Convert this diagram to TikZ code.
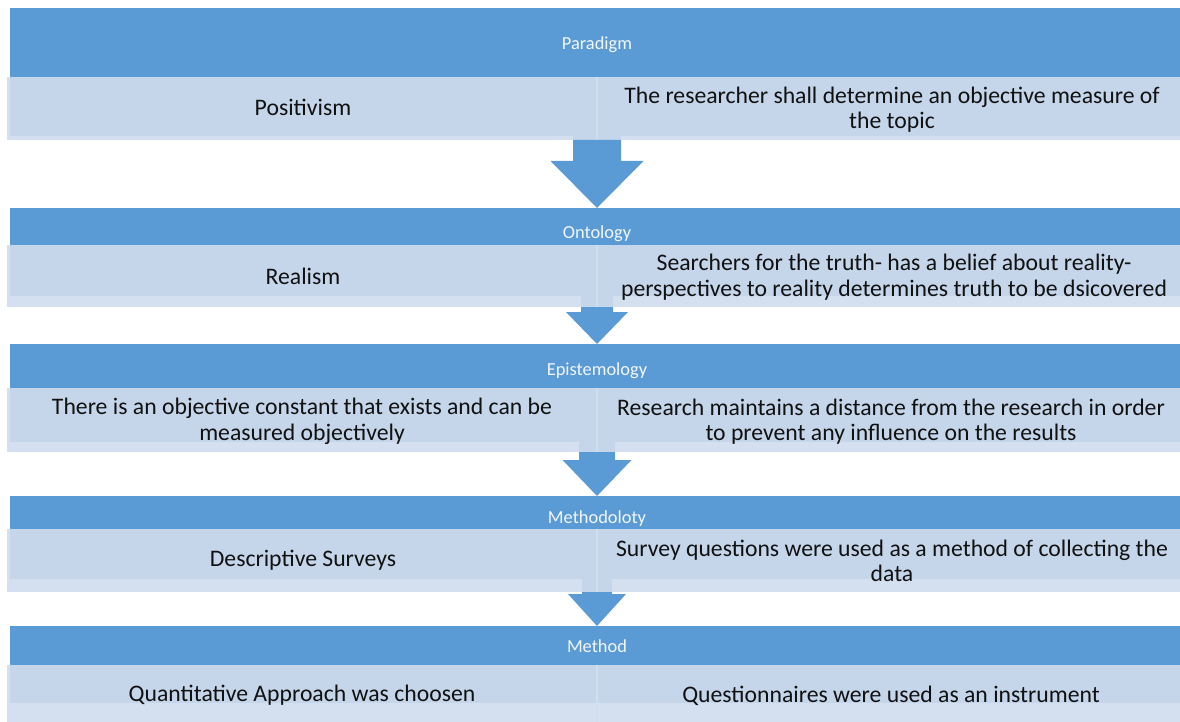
\documentclass[tikz,border=0pt]{standalone}
\usepackage{fontspec}
\setmainfont{Carlito}
\usetikzlibrary{calc}
\definecolor{hdr}{HTML}{5B9BD5}
\definecolor{cellfill}{HTML}{C5D6EB}
\definecolor{rimfill}{HTML}{D4DFEF}
\definecolor{divline}{HTML}{D2DEEE}
\definecolor{hdrtext}{HTML}{F2F6FB}
\definecolor{ink}{HTML}{111111}

% one stage: header bar, cell band with a lighter rim, centre divider
% #1 id, #2 top, #3 header bottom, #4 cell bottom, #5 band bottom
\newcommand\stagebox[5]{%
  \node[bar, minimum height={(#3-#2)*1pt}] (bar#1) at (10,#2) {};
  \node[rim, minimum height={(#5-#3)*1pt}] (rim#1) at (7,#3) {};
  \node[cell, minimum height={(#4-#3)*1pt}] (cell#1) at (10,#3) {};
  \draw[divline, line width=2pt] (axis |- cell#1.north) -- (axis |- rim#1.south);
}
% block arrow from one band to the next header
% #1 upper id, #2 lower id, #3 shaft half width, #4 head half width, #5 head length
\newcommand\flowarrow[5]{%
  \fill[cellfill] ($(axis |- cell#1.south)+(-#3,0)$) rectangle ($(axis |- rim#1.south)+(#3,0)$);
  \draw[divline, line width=2pt] (axis |- cell#1.south) -- (axis |- rim#1.south);
  \fill[hdr] ($(axis |- rim#1.south)+(-#3,0)$) -- ($(axis |- rim#1.south)+(#3,0)$)
    -- ($(axis |- bar#2.north)+(#3,-#5)$) -- ($(axis |- bar#2.north)+(#4,-#5)$)
    -- (axis |- bar#2.north)
    -- ($(axis |- bar#2.north)+(-#4,-#5)$) -- ($(axis |- bar#2.north)+(-#3,-#5)$) -- cycle;
}

\begin{document}
\begin{tikzpicture}[x=1pt,y=-1pt,
  bar/.style={fill=hdr, draw=none, inner sep=0pt, outer sep=0pt, anchor=north west, minimum width=1170pt},
  rim/.style={fill=rimfill, draw=none, inner sep=0pt, outer sep=0pt, anchor=north west, minimum width=1173pt},
  cell/.style={fill=cellfill, draw=none, inner sep=0pt, outer sep=0pt, anchor=north west, minimum width=1170pt},
  title/.style={text=hdrtext, font=\fontsize{18.4}{22}\selectfont, inner sep=0pt},
  body/.style={text=ink, font=\fontsize{23.7}{25.5}\selectfont, align=center, inner sep=0pt}]
\useasboundingbox (0,0) rectangle (1180,722);
\coordinate (axis) at (597,0);

\stagebox{1}{8}{77}{136}{140}
\stagebox{2}{208}{245}{296}{307}
\stagebox{3}{344}{388}{442}{452}
\stagebox{4}{496}{529}{579}{592}
\stagebox{5}{626}{665}{703}{722}

\flowarrow{1}{2}{24}{46.5}{47}
\flowarrow{2}{3}{16}{31}{32}
\flowarrow{3}{4}{18}{34.5}{36}
\flowarrow{4}{5}{15}{29}{32}

\node[title] (t1) at (597,44.5) {Paradigm};
\node[title] (t2) at (597,233.5) {Ontology};
\node[title] (t3) at (597,370.5) {Epistemology};
\node[title] (t4) at (597,518.5) {Methodoloty};
\node[title] (t5) at (597,646) {Method};

\node[body] (l1) at (303,107.5) {Positivism};
\node[body] (r1) at (892,109.5) {The researcher shall determine an objective measure of\\the topic};
\node[body] (l2) at (303,276.5) {Realism};
\node[body] (r2) at (894,277) {Searchers for the truth- has a belief about reality-\\perspectives to reality determines truth to be dsicovered};
\node[body] (l3) at (302,421.5) {There is an objective constant that exists and can be\\measured objectively};
\node[body] (r3) at (891,421.5) {Research maintains a distance from the research in order\\to prevent any influence on the results};
\node[body] (l4) at (303,560.5) {Descriptive Surveys};
\node[body] (r4) at (892,561) {Survey questions were used as a method of collecting the\\data};
\node[body] (l5) at (302,695.5) {Quantitative Approach was choosen};
\node[body] (r5) at (891,695.5) {Questionnaires were used as an instrument};
\end{tikzpicture}
\end{document}
